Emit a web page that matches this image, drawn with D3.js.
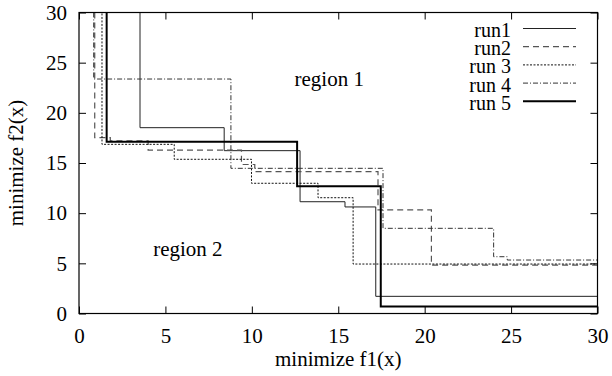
<!DOCTYPE html>
<html>
<head>
<meta charset="utf-8">
<script src="https://cdn.jsdelivr.net/npm/d3@7"></script>
<style>
  html, body { margin: 0; padding: 0; background: #fff; }
  svg { display: block; }
  text { font-family: "Liberation Serif", "Times New Roman", serif; fill: #000; }
</style>
</head>
<body>
<svg id="chart" width="612" height="376"></svg>
<script>
// Axis ticks
const xTicks = [0, 5, 10, 15, 20, 25, 30];
const yTicks = [0, 5, 10, 15, 20, 25, 30];

// Attainment fronts: step corners (f1, f2) for each run
const run1F1 = [3.53, 8.40, 12.79, 15.39, 17.17];
const run1F2 = [18.52, 16.23, 11.14, 10.62, 1.71];

const run2F1 = [0.91, 1.81, 4.00, 9.40, 10.17, 17.30, 20.39];
const run2F2 = [17.52, 17.22, 16.28, 14.85, 14.14, 10.32, 4.83];

const run3F1 = [1.33, 5.51, 9.98, 13.83, 15.86];
const run3F2 = [16.86, 15.37, 12.98, 11.54, 4.93];

const run4F1 = [0.85, 8.79, 17.59, 23.99, 24.78];
const run4F2 = [23.37, 14.47, 8.49, 5.66, 5.33];

const run5F1 = [1.60, 12.62, 17.46];
const run5F2 = [17.12, 12.68, 0.70];

const runNames = ["run1", "run2", "run 3", "run 4", "run 5"];

const runs = [
  { name: runNames[0], f1: run1F1, f2: run1F2, color: "#222", width: 1,   dash: null },
  { name: runNames[1], f1: run2F1, f2: run2F2, color: "#555", width: 1.2, dash: "6,4" },
  { name: runNames[2], f1: run3F1, f2: run3F2, color: "#111", width: 1,   dash: "2,1.5" },
  { name: runNames[3], f1: run4F1, f2: run4F2, color: "#333", width: 1,   dash: "5,2,1,2" },
  { name: runNames[4], f1: run5F1, f2: run5F2, color: "#000", width: 2,   dash: null }
];

const svg = d3.select("#chart");
const pLeft = 79, pRight = 597.5, pTop = 12.5, pBottom = 313.5;
const FS = 21;
const LEG_FS = 20;

const x = d3.scaleLinear().domain([0, 30]).range([pLeft, pRight]);
const y = d3.scaleLinear().domain([0, 30]).range([pBottom, pTop]);

svg.append("defs").append("clipPath").attr("id", "plot")
  .append("rect").attr("x", pLeft).attr("y", pTop)
  .attr("width", pRight - pLeft).attr("height", pBottom - pTop);

// Staircase for each run: from above the frame down to the first corner,
// then step through the corners and out past the right edge.
const line = d3.line().x(d => x(d[0])).y(d => y(d[1])).curve(d3.curveStepAfter);

const g = svg.append("g").attr("clip-path", "url(#plot)");
runs.forEach(r => {
  const pts = [[r.f1[0], 32]];
  r.f1.forEach((v, i) => pts.push([v, r.f2[i]]));
  pts.push([32, r.f2[r.f2.length - 1]]);
  g.append("path")
    .attr("d", line(pts))
    .attr("fill", "none")
    .attr("stroke", r.color)
    .attr("stroke-width", r.width)
    .attr("stroke-dasharray", r.dash)
    .attr("stroke-linejoin", "miter");
});

// Axes with inward ticks on all four sides
function styleAxis(sel) {
  sel.select(".domain").remove();
  sel.selectAll(".tick line").attr("stroke", "#000").attr("stroke-width", 1);
  sel.selectAll("text").attr("font-size", FS).attr("font-family", "Liberation Serif, Times New Roman, serif").attr("fill", "#000");
}

svg.append("g").attr("transform", `translate(0,${pBottom})`)
  .call(d3.axisBottom(x).tickValues(xTicks).tickSizeInner(-7).tickSizeOuter(0).tickPadding(15))
  .call(styleAxis);
svg.append("g").attr("transform", `translate(0,${pTop})`)
  .call(d3.axisTop(x).tickValues(xTicks).tickSizeInner(-7).tickSizeOuter(0).tickFormat(""))
  .call(styleAxis);
svg.append("g").attr("transform", `translate(${pLeft},0)`)
  .call(d3.axisLeft(y).tickValues(yTicks).tickSizeInner(-7).tickSizeOuter(0).tickPadding(12))
  .call(styleAxis);
svg.append("g").attr("transform", `translate(${pRight},0)`)
  .call(d3.axisRight(y).tickValues(yTicks).tickSizeInner(-7).tickSizeOuter(0).tickFormat(""))
  .call(styleAxis);

// Frame
svg.append("rect")
  .attr("x", pLeft).attr("y", pTop)
  .attr("width", pRight - pLeft).attr("height", pBottom - pTop)
  .attr("fill", "none").attr("stroke", "#000").attr("stroke-width", 1.2);

// Axis titles
svg.append("text")
  .attr("x", (pLeft + pRight) / 2).attr("y", 366)
  .attr("text-anchor", "middle").attr("font-size", FS)
  .text("minimize f1(x)");
svg.append("text")
  .attr("transform", `translate(23,${(pTop + pBottom) / 2}) rotate(-90)`)
  .attr("text-anchor", "middle").attr("font-size", FS)
  .text("minimize f2(x)");

// Region annotations
svg.append("text").attr("x", x(14.48)).attr("y", y(22.68))
  .attr("text-anchor", "middle").attr("font-size", FS).text("region 1");
svg.append("text").attr("x", x(6.3)).attr("y", y(5.73))
  .attr("text-anchor", "middle").attr("font-size", FS).text("region 2");

// Legend
const legY0 = 28.5, legStep = 18.2;
runs.forEach((r, i) => {
  const ly = legY0 + i * legStep;
  svg.append("text").attr("x", 511).attr("y", ly + 8.5)
    .attr("text-anchor", "end").attr("font-size", LEG_FS).text(r.name);
  svg.append("line")
    .attr("x1", 523).attr("x2", 576).attr("y1", ly).attr("y2", ly)
    .attr("stroke", r.color).attr("stroke-width", r.width)
    .attr("stroke-dasharray", r.dash);
});
</script>
</body>
</html>
